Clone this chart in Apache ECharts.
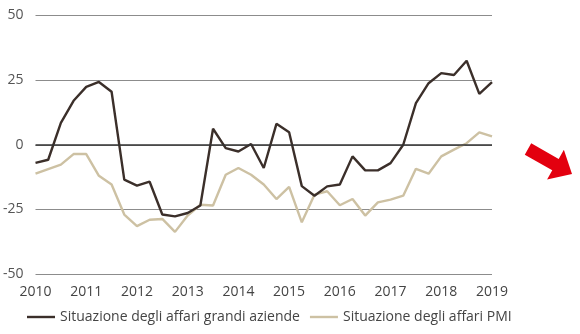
<!DOCTYPE html>
<html>
<head>
<meta charset="utf-8">
<script src="https://cdn.jsdelivr.net/npm/echarts@6/dist/echarts.min.js"></script>
<style>
  html, body { margin: 0; padding: 0; background: #fff; }
  #chart { width: 580px; height: 334px; }
</style>
</head>
<body>
<div id="chart"></div>
<script>
// Quarterly business-situation balances, 2010 Q1 – 2019 Q1
const firstYear = 2010;
const quartersPerYear = 4;
const grandiAziende = [
  -7, -5.8, 8.5, 17, 22.4, 24.3, 20.5, -13.5, -15.8, -14.3,
  -27, -27.7, -26.4, -23.5, 6.2, -1.3, -2.6, 0.3, -9, 8.1,
  4.8, -16, -19.7, -16.1, -15.4, -4.5, -9.9, -9.9, -7.1, 0,
  16.1, 23.8, 27.7, 27, 32.5, 19.7, 24.2
];
const pmi = [
  -11.2, -9.4, -7.7, -3.6, -3.6, -12, -15.4, -27, -31.5, -29,
  -28.7, -33.7, -27.4, -23.2, -23.5, -11.6, -9, -11.6, -15.4, -21,
  -16.3, -30, -19.3, -18, -23.4, -21, -27.4, -22.3, -21.2, -19.7,
  -9.3, -11.2, -4.5, -1.9, 0.6, 4.8, 3.2
];
const yTicks = [-50, -25, 0, 25, 50];
const seriesNames = ['Situazione degli affari grandi aziende', 'Situazione degli affari PMI'];

const toPoints = arr => arr.map((v, i) => [firstYear + i / quartersPerYear, v]);

// Red down-right arrow, built from a tail point, direction and sizes
function arrowPoints(tail, tip, shaftHalf, headHalf, headLen) {
  const dx = tip[0] - tail[0], dy = tip[1] - tail[1];
  const len = Math.hypot(dx, dy);
  const ux = dx / len, uy = dy / len;
  const px = -uy, py = ux;
  const bx = tip[0] - ux * headLen, by = tip[1] - uy * headLen;
  return [
    [tail[0] - px * shaftHalf, tail[1] - py * shaftHalf],
    [bx - px * shaftHalf, by - py * shaftHalf],
    [bx - px * headHalf, by - py * headHalf],
    tip,
    [bx + px * headHalf, by + py * headHalf],
    [bx + px * shaftHalf, by + py * shaftHalf],
    [tail[0] + px * shaftHalf, tail[1] + py * shaftHalf]
  ];
}

const font = 'Open Sans';
const chart = echarts.init(document.getElementById('chart'), null, { renderer: 'canvas' });
chart.setOption({
  animation: false,
  backgroundColor: '#fff',
  grid: { left: 33, right: 88, top: 15.5, bottom: 60 },
  legend: {
    left: 27, top: 310, padding: 0,
    icon: 'rect',
    itemWidth: 28, itemHeight: 2.4, itemGap: 10,
    textStyle: { fontFamily: font, fontSize: 14, color: '#444' },
    data: seriesNames
  },
  xAxis: {
    type: 'value',
    min: 2010, max: 2019, interval: 1,
    axisLine: { show: false },
    axisTick: { show: false },
    splitLine: { show: false },
    axisLabel: { fontFamily: font, fontSize: 14, color: '#444', margin: 11, formatter: v => String(v) }
  },
  yAxis: {
    type: 'value',
    min: yTicks[0], max: yTicks[yTicks.length - 1], interval: 25,
    axisLine: { show: false },
    axisTick: { show: false },
    axisLabel: { fontFamily: font, fontSize: 14, color: '#555', margin: 12 },
    splitLine: { lineStyle: { color: '#8c8c8c', width: 1 } }
  },
  series: [
    {
      name: seriesNames[0],
      type: 'line',
      data: toPoints(grandiAziende),
      symbol: 'none',
      z: 3,
      lineStyle: { color: '#3b2f2a', width: 2.4 },
      itemStyle: { color: '#3b2f2a' },
      markLine: {
        silent: true, symbol: 'none', label: { show: false },
        lineStyle: { color: '#333', width: 1.6, type: 'solid' },
        data: [{ yAxis: 0 }]
      }
    },
    {
      name: seriesNames[1],
      type: 'line',
      data: toPoints(pmi),
      symbol: 'none',
      z: 2,
      lineStyle: { color: '#cdc1a3', width: 2.4 },
      itemStyle: { color: '#cdc1a3' }
    }
  ],
  graphic: [{
    type: 'polygon',
    shape: { points: arrowPoints([528, 149], [572, 174], 6.5, 17, 19) },
    style: { fill: '#e3000f' }
  }]
});
</script>
</body>
</html>
